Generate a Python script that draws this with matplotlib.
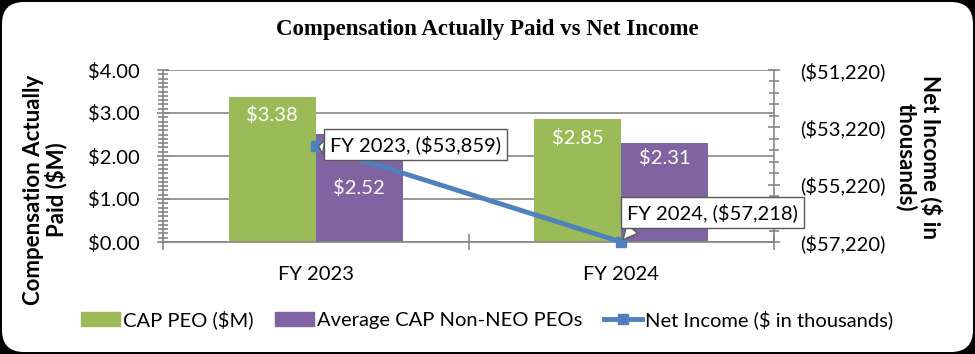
import numpy as np
import matplotlib
matplotlib.use("Agg")
import matplotlib.pyplot as plt
from matplotlib.patches import FancyBboxPatch, Patch
from matplotlib.lines import Line2D
from matplotlib.ticker import FuncFormatter, MultipleLocator

# --- Data ---
years = ["FY 2023", "FY 2024"]
cap_peo = [3.38, 2.85]
cap_non_neo = [2.52, 2.31]
net_income = [-53859, -57218]  # $ in thousands

# --- Style ---
plt.rcParams["font.family"] = ["Lato", "DejaVu Sans"]
green = "#9BBB59"
purple = "#8064A2"
blue = "#4F81BD"
axis_gray = "#868686"
fs = 14.5

fig = plt.figure(figsize=(9.75, 3.54), dpi=100)
fig.patch.set_facecolor("black")
bg = FancyBboxPatch((0.02, 0.02), 9.71, 3.50, boxstyle="round,pad=0,rounding_size=0.22",
                    transform=fig.dpi_scale_trans, fc="white", ec="none", zorder=-10)
fig.patches.append(bg)

ax = fig.add_axes([163 / 975, 1 - 242 / 354, 611 / 975, 172 / 354])
ax.set_facecolor("none")
ax2 = ax.twinx()

x = np.arange(len(years))
w = 0.285
ax.bar(x - w / 2, cap_peo, w, color=green, zorder=2)
ax.bar(x + w / 2, cap_non_neo, w, color=purple, zorder=2)

# data labels (white, inside bars)
for i, v in enumerate(cap_peo):
    ax.annotate(f"${v:.2f}", (x[i] - w / 2, v), xytext=(0, -13), textcoords="offset points",
                ha="center", va="center", color="white", fontsize=fs, zorder=3)
for i, v in enumerate(cap_non_neo):
    if i == 0:
        ax.text(x[i] + w / 2, v / 2, f"${v:.2f}", ha="center", va="center",
                color="white", fontsize=fs, zorder=3)
    else:
        ax.annotate(f"${v:.2f}", (x[i] + w / 2, v), xytext=(0, -11), textcoords="offset points",
                    ha="center", va="center", color="white", fontsize=fs, zorder=3)

ax.set_xlim(-0.5, 1.5)
ax.set_ylim(0, 4)
ax.yaxis.set_major_locator(MultipleLocator(1))
ax.yaxis.set_minor_locator(MultipleLocator(0.1))
ax.yaxis.set_major_formatter(FuncFormatter(lambda v, p: f"${v:.2f}"))
ax.grid(axis="y", color=axis_gray, lw=1.2, zorder=1)
ax.set_axisbelow(True)
ax.set_xticks([-0.5, 0.5, 1.5])
ax.set_xticklabels([])
ax.set_xticks(x, minor=True)
ax.set_xticklabels(years, minor=True, fontsize=fs)
ax.tick_params(axis="x", which="major", direction="inout", length=12, color=axis_gray, width=1.2)
ax.tick_params(axis="x", which="minor", length=0, pad=17)
ax.tick_params(axis="y", which="major", direction="inout", length=9, color=axis_gray, width=1.2,
               labelsize=fs, pad=12)
ax.tick_params(axis="y", which="minor", direction="inout", length=7, color=axis_gray, width=1.2)
for s in ["top", "right"]:
    ax.spines[s].set_visible(False)
for s in ["left", "bottom"]:
    ax.spines[s].set_color(axis_gray)
    ax.spines[s].set_linewidth(1.2)

# --- Net income line on secondary axis ---
ax2.plot(x, net_income, color=blue, lw=3.5, marker="s", ms=7, zorder=4, clip_on=False)
ax2.set_ylim(-57220, -51220)
ax2.set_yticks([-57220, -55220, -53220, -51220])
ax2.yaxis.set_minor_locator(MultipleLocator(400, offset=-57220 % 400))
ax2.yaxis.set_major_formatter(FuncFormatter(lambda v, p: f"(${abs(v):,.0f})"))
ax2.tick_params(axis="y", which="major", direction="inout", length=9, color=axis_gray, width=1.2,
                labelsize=fs, pad=14)
ax2.tick_params(axis="y", which="minor", direction="inout", length=7, color=axis_gray, width=1.2)
for s in ["top", "left", "bottom"]:
    ax2.spines[s].set_visible(False)
ax2.spines["right"].set_color(axis_gray)
ax2.spines["right"].set_linewidth(1.2)

offsets = [(72, 1), (66, 21)]
relpos = [(0.0, 0.3), (0.06, 0.0)]
for i, v in enumerate(net_income):
    ax2.annotate(f"{years[i]}, (${abs(v):,})", (x[i], v), xytext=offsets[i], textcoords="offset points",
                 ha="center", va="center", fontsize=fs, zorder=6, annotation_clip=False,
                 bbox=dict(boxstyle="square,pad=0.3", fc="white", ec="#595959", lw=1),
                 arrowprops=dict(arrowstyle="wedge,tail_width=0.7", fc="white", ec="#595959",
                                 lw=1, shrinkA=0, shrinkB=2, relpos=relpos[i]))

# --- Labels ---
fig.text(0.5, 1 - 30 / 354, "Compensation Actually Paid vs Net Income", ha="center", va="center",
         fontsize=16.5, fontweight="bold", family="Liberation Serif")
fig.text(45 / 975, 1 - 190 / 354, "Compensation Actually\nPaid ($M)", rotation=90, ha="center",
         va="center", fontsize=16, fontweight="bold", linespacing=1.05)
fig.text(919 / 975, 1 - 157 / 354, "Net Income ($ in\nthousands)", rotation=270, ha="center",
         va="center", fontsize=16, fontweight="bold", linespacing=1.15)

handles = [Patch(color=green), Patch(color=purple),
           Line2D([], [], color=blue, lw=3.5, marker="s", ms=7)]
labels = ["CAP PEO ($M)", "Average CAP Non-NEO PEOs", "Net Income ($ in thousands)"]
fig.legend(handles, labels, loc="center", bbox_to_anchor=(0.5, 1 - 320 / 354), ncol=3,
           frameon=False, fontsize=fs, handlelength=1.9, handletextpad=0.15, columnspacing=1.1)

fig.savefig("out.png", dpi=100, facecolor=fig.get_facecolor())
